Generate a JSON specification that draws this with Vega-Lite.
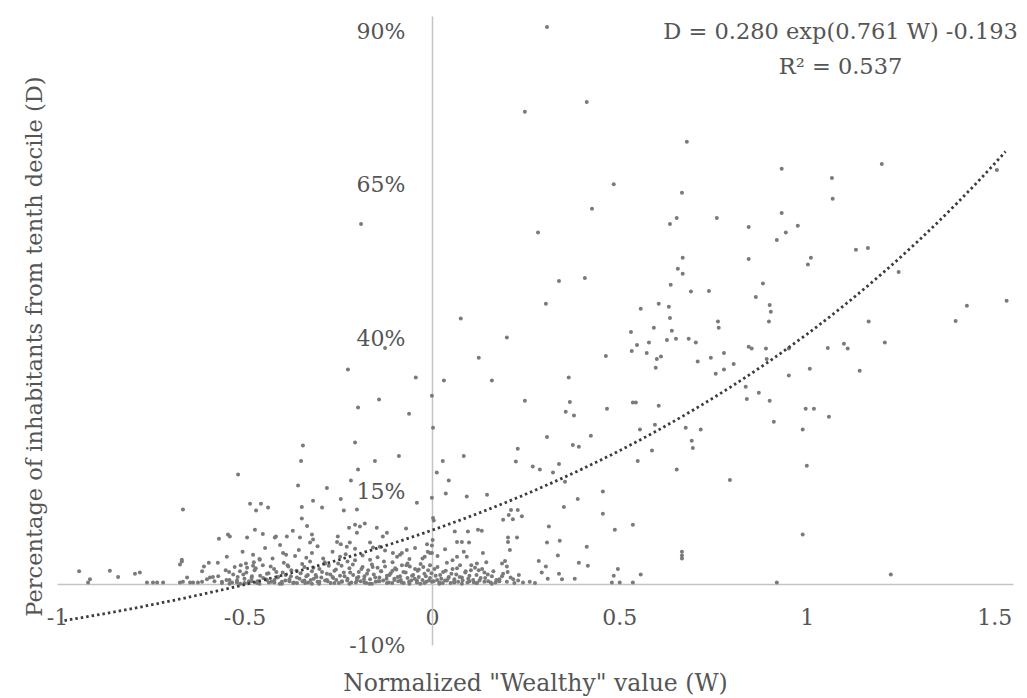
{
  "$schema": "https://vega.github.io/schema/vega-lite/v6.json",
  "width": 956,
  "height": 629,
  "autosize": "none",
  "padding": {"left": 57, "top": 16, "right": 14, "bottom": 53},
  "background": "white",
  "config": {
    "view": {"stroke": null},
    "font": "DejaVu Serif",
    "axis": {"labelFont": "DejaVu Serif", "titleFont": "DejaVu Serif"}
  },
  "datasets": {
    "pts": [
      {"W":0.307,"D":0.907},{"W":0.248,"D":0.769},{"W":0.413,"D":0.785},{"W":0.68,"D":0.72},{"W":0.933,"D":0.676},{"W":0.485,"D":0.651},{"W":0.667,"D":0.637},{"W":0.427,"D":0.611},{"W":0.653,"D":0.596},{"W":0.76,"D":0.596},{"W":0.933,"D":0.604},{"W":1.067,"D":0.661},{"W":1.2,"D":0.684},{"W":1.069,"D":0.627},{"W":1.507,"D":0.674},{"W":-0.189,"D":0.586},
      {"W":0.077,"D":0.432},{"W":0.2,"D":0.401},{"W":0.125,"D":0.368},{"W":-0.224,"D":0.349},{"W":-0.125,"D":0.384},{"W":-0.043,"D":0.336},{"W":0.032,"D":0.331},{"W":0.16,"D":0.331},{"W":0.248,"D":0.298},{"W":-0.197,"D":0.287},{"W":-0.141,"D":0.3},{"W":-0.061,"D":0.277},{"W":0,"D":0.306},{"W":0.003,"D":0.254},
      {"W":0.283,"D":0.572},{"W":0.635,"D":0.586},{"W":0.845,"D":0.581},{"W":0.92,"D":0.56},{"W":0.845,"D":0.529},{"W":0.669,"D":0.531},{"W":0.656,"D":0.513},{"W":0.669,"D":0.505},{"W":0.339,"D":0.493},{"W":0.408,"D":0.498},{"W":0.637,"D":0.487},{"W":0.691,"D":0.476},{"W":0.739,"D":0.477},{"W":0.883,"D":0.489},{"W":0.864,"D":0.467},{"W":0.304,"D":0.456},{"W":0.557,"D":0.448},{"W":0.605,"D":0.456},{"W":0.632,"D":0.451},{"W":0.635,"D":0.433},{"W":0.901,"D":0.454},{"W":0.904,"D":0.443},{"W":0.899,"D":0.427},{"W":0.763,"D":0.427},{"W":0.765,"D":0.417},{"W":0.592,"D":0.417},{"W":0.531,"D":0.41},{"W":0.64,"D":0.412},{"W":0.579,"D":0.393},{"W":0.547,"D":0.389},{"W":0.627,"D":0.397},{"W":0.651,"D":0.399},{"W":0.685,"D":0.399},{"W":0.704,"D":0.393},{"W":0.533,"D":0.379},{"W":0.573,"D":0.376},{"W":0.611,"D":0.37},{"W":0.6,"D":0.366},{"W":0.597,"D":0.352},{"W":0.464,"D":0.371},{"W":0.709,"D":0.362},{"W":0.744,"D":0.368},{"W":0.779,"D":0.376},{"W":0.805,"D":0.358},{"W":0.757,"D":0.342},{"W":0.779,"D":0.349},{"W":0.845,"D":0.386},{"W":0.853,"D":0.383},{"W":0.891,"D":0.383},{"W":0.893,"D":0.366},{"W":0.365,"D":0.336},{"W":0.368,"D":0.296},{"W":0.357,"D":0.28},{"W":0.379,"D":0.274},{"W":0.467,"D":0.285},{"W":0.536,"D":0.295},{"W":0.544,"D":0.295},{"W":0.605,"D":0.29},{"W":0.837,"D":0.321},{"W":0.84,"D":0.301},{"W":0.872,"D":0.311},{"W":0.901,"D":0.298},{"W":0.912,"D":0.264},{"W":0.595,"D":0.259},{"W":0.555,"D":0.251},{"W":0.677,"D":0.254},{"W":0.717,"D":0.251},
      {"W":0.976,"D":0.583},{"W":0.944,"D":0.572},{"W":1.131,"D":0.544},{"W":1.163,"D":0.547},{"W":1.011,"D":0.531},{"W":1.003,"D":0.52},{"W":1.245,"D":0.508},{"W":1.533,"D":0.461},{"W":1.427,"D":0.453},{"W":1.397,"D":0.428},{"W":1.165,"D":0.427},{"W":1.208,"D":0.393},{"W":1.099,"D":0.391},{"W":1.109,"D":0.383},{"W":1.056,"D":0.384},{"W":0.952,"D":0.383},{"W":1.008,"D":0.35},{"W":0.952,"D":0.339},{"W":1.141,"D":0.347},{"W":0.997,"D":0.285},{"W":1.019,"D":0.285},{"W":1.059,"D":0.272},{"W":0.989,"D":0.251},
      {"W":1.0,"D":0.192},{"W":0.989,"D":0.08},{"W":0.92,"D":0.002},{"W":1.224,"D":0.015},
      {"W":0.307,"D":0.239},{"W":0.376,"D":0.226},{"W":0.392,"D":0.223},{"W":0.424,"D":0.241},{"W":0.693,"D":0.233},{"W":0.696,"D":0.221},{"W":0.587,"D":0.217},{"W":0.549,"D":0.2},{"W":0.653,"D":0.186},{"W":0.795,"D":0.169},{"W":0.269,"D":0.191},{"W":0.288,"D":0.186},{"W":0.339,"D":0.195},{"W":0.323,"D":0.181},{"W":0.355,"D":0.166},{"W":0.456,"D":0.15},{"W":0.389,"D":0.138},{"W":0.352,"D":0.125},{"W":0.456,"D":0.114},{"W":0.536,"D":0.096},{"W":0.488,"D":0.088},{"W":0.312,"D":0.093},{"W":0.307,"D":0.067},{"W":0.341,"D":0.07},{"W":0.413,"D":0.06},{"W":0.336,"D":0.046},{"W":0.667,"D":0.052},{"W":0.667,"D":0.046},{"W":0.667,"D":0.041},{"W":0.285,"D":0.037},{"W":0.304,"D":0.028},{"W":0.392,"D":0.034},{"W":0.416,"D":0.029},{"W":0.293,"D":0.018},{"W":0.339,"D":0.016},{"W":0.347,"D":0.007},{"W":0.309,"D":0.008},{"W":0.381,"D":0.008},{"W":0.496,"D":0.024},{"W":0.485,"D":0.013},{"W":0.48,"D":0.002},{"W":0.501,"D":0.002},{"W":0.536,"D":0.002},{"W":0.557,"D":0.015},{"W":0.243,"D":0.002},{"W":0.261,"D":0.003},{"W":0.275,"D":0.001},
      {"W":-0.344,"D":0.225},{"W":-0.349,"D":0.2},{"W":-0.205,"D":0.23},{"W":-0.152,"D":0.2},{"W":-0.088,"D":0.208},{"W":-0.197,"D":0.186},{"W":-0.216,"D":0.168},{"W":-0.357,"D":0.16},{"W":-0.28,"D":0.156},{"W":0.029,"D":0.2},{"W":0.085,"D":0.208},{"W":0.229,"D":0.22},{"W":0.224,"D":0.199},{"W":0.013,"D":0.181},{"W":0.045,"D":0.168},{"W":0.037,"D":0.147},{"W":0.093,"D":0.142},{"W":0.147,"D":0.145},{"W":0,"D":0.14},{"W":-0.04,"D":0.132},{"W":-0.243,"D":0.138},{"W":-0.317,"D":0.135},{"W":-0.293,"D":0.124},{"W":-0.347,"D":0.125},{"W":-0.235,"D":0.119},{"W":-0.2,"D":0.121},{"W":-0.347,"D":0.106},{"W":-0.333,"D":0.094},
      {"W":-0.221,"D":0.091},{"W":-0.205,"D":0.096},{"W":-0.192,"D":0.093},{"W":-0.2,"D":0.083},{"W":-0.179,"D":0.098},{"W":-0.147,"D":0.091},{"W":-0.069,"D":0.09},{"W":0.003,"D":0.107},{"W":0.005,"D":0.103},{"W":0.061,"D":0.085},{"W":0.096,"D":0.085},{"W":0.123,"D":0.088},{"W":0.133,"D":0.086},
      {"W":0.19,"D":0.104},{"W":0.205,"D":0.112},{"W":0.211,"D":0.12},{"W":0.229,"D":0.12},{"W":0.216,"D":0.105},{"W":0.24,"D":0.11},
      {"W":0.203,"D":0.075},{"W":0.203,"D":0.068},{"W":0.208,"D":0.055},{"W":0.227,"D":0.075},{"W":0.067,"D":0.068},{"W":0.08,"D":0.068},{"W":0.099,"D":0.067},{"W":0.136,"D":0.05},{"W":0.067,"D":0.044},{"W":0.093,"D":0.044},
      {"W":0.187,"D":0.033},{"W":0.195,"D":0.037},{"W":0.2,"D":0.028},{"W":0.12,"D":0.033},
      {"W":-0.32,"D":0.05},{"W":-0.397,"D":0.05},{"W":-0.389,"D":0.047},{"W":-0.419,"D":0.075},{"W":-0.387,"D":0.077},{"W":-0.371,"D":0.086},{"W":-0.352,"D":0.075},{"W":-0.32,"D":0.08},{"W":-0.317,"D":0.072},{"W":-0.325,"D":0.067},{"W":-0.251,"D":0.077},{"W":-0.253,"D":0.068},{"W":-0.243,"D":0.064},{"W":-0.227,"D":0.06},{"W":-0.219,"D":0.067},{"W":-0.165,"D":0.067},{"W":-0.157,"D":0.059},{"W":-0.139,"D":0.06},{"W":-0.131,"D":0.077},{"W":-0.12,"D":0.083},{"W":-0.104,"D":0.05},{"W":-0.093,"D":0.044},{"W":-0.08,"D":0.05},{"W":-0.067,"D":0.055},{"W":-0.013,"D":0.064},{"W":-0.011,"D":0.052},{"W":-0.005,"D":0.05},{"W":-0.019,"D":0.044},{"W":-0.035,"D":0.023},{"W":-0.059,"D":0.028},
      {"W":-0.517,"D":0.178},{"W":-0.664,"D":0.121},{"W":-0.485,"D":0.13},{"W":-0.456,"D":0.13},{"W":-0.469,"D":0.119},{"W":-0.437,"D":0.124},{"W":-0.472,"D":0.088},{"W":-0.451,"D":0.081},{"W":-0.493,"D":0.075},{"W":-0.544,"D":0.08},{"W":-0.539,"D":0.077},{"W":-0.568,"D":0.073},{"W":-0.416,"D":0.077},{"W":-0.667,"D":0.036},{"W":-0.672,"D":0.031},{"W":-0.667,"D":0.039},{"W":-0.547,"D":0.044},{"W":-0.571,"D":0.034},{"W":-0.595,"D":0.034},{"W":-0.608,"D":0.028},{"W":-0.613,"D":0.02},{"W":-0.477,"D":0.047},{"W":-0.459,"D":0.039},{"W":-0.477,"D":0.029},{"W":-0.493,"D":0.026},{"W":-0.512,"D":0.02},
      {"W":-0.941,"D":0.02},{"W":-0.859,"D":0.021},{"W":-0.837,"D":0.011},{"W":-0.792,"D":0.016},{"W":-0.779,"D":0.018},{"W":-0.917,"D":0.002},{"W":-0.912,"D":0.007},{"W":-0.76,"D":0.002},{"W":-0.744,"D":0.002},{"W":-0.733,"D":0.002},{"W":-0.717,"D":0.002},{"W":-0.672,"D":0.002},{"W":-0.664,"D":0.003},{"W":-0.653,"D":0.01},{"W":-0.645,"D":0.002},{"W":-0.637,"D":0.002},{"W":-0.624,"D":0.002},{"W":-0.613,"D":0.003},{"W":-0.6,"D":0.007},{"W":-0.592,"D":0.01},{"W":-0.584,"D":0.011},
      {"W":-0.58,"D":0.004},{"W":-0.57,"D":0.012},{"W":-0.56,"D":0.001},{"W":-0.55,"D":0.022},{"W":-0.54,"D":0.006},{"W":-0.53,"D":0.015},{"W":-0.52,"D":0.002},{"W":-0.51,"D":0.03},{"W":-0.5,"D":0.008},{"W":-0.495,"D":0.018},{"W":-0.49,"D":0.001},{"W":-0.48,"D":0.012},{"W":-0.47,"D":0.025},{"W":-0.465,"D":0.004},{"W":-0.46,"D":0.04},{"W":-0.45,"D":0.009},{"W":-0.44,"D":0.016},{"W":-0.435,"D":0.002},{"W":-0.43,"D":0.028},{"W":-0.42,"D":0.006},{"W":-0.415,"D":0.019},{"W":-0.41,"D":0.011},{"W":-0.4,"D":0.003},{"W":-0.395,"D":0.034},{"W":-0.39,"D":0.014},{"W":-0.38,"D":0.007},{"W":-0.375,"D":0.022},{"W":-0.37,"D":0.001},{"W":-0.365,"D":0.045},{"W":-0.36,"D":0.01},{"W":-0.35,"D":0.017},{"W":-0.345,"D":0.004},{"W":-0.34,"D":0.027},{"W":-0.335,"D":0.012},{"W":-0.33,"D":0.002},{"W":-0.325,"D":0.036},{"W":-0.32,"D":0.02},{"W":-0.315,"D":0.008},{"W":-0.31,"D":0.014},{"W":-0.305,"D":0.003},{"W":-0.3,"D":0.024},{"W":-0.295,"D":0.01},{"W":-0.29,"D":0.041},{"W":-0.285,"D":0.005},{"W":-0.28,"D":0.016},{"W":-0.275,"D":0.029},{"W":-0.27,"D":0.001},{"W":-0.265,"D":0.011},{"W":-0.26,"D":0.021},{"W":-0.255,"D":0.006},{"W":-0.25,"D":0.033},{"W":-0.245,"D":0.013},{"W":-0.24,"D":0.003},{"W":-0.235,"D":0.018},{"W":-0.23,"D":0.048},{"W":-0.225,"D":0.008},{"W":-0.22,"D":0.025},{"W":-0.215,"D":0.002},{"W":-0.21,"D":0.014},{"W":-0.205,"D":0.038},{"W":-0.2,"D":0.009},{"W":-0.195,"D":0.019},{"W":-0.19,"D":0.004},{"W":-0.185,"D":0.027},{"W":-0.18,"D":0.012},{"W":-0.175,"D":0.001},{"W":-0.17,"D":0.022},{"W":-0.165,"D":0.007},{"W":-0.16,"D":0.031},{"W":-0.155,"D":0.015},{"W":-0.15,"D":0.003},{"W":-0.145,"D":0.043},{"W":-0.14,"D":0.01},{"W":-0.135,"D":0.02},{"W":-0.13,"D":0.005},{"W":-0.125,"D":0.028},{"W":-0.12,"D":0.013},{"W":-0.115,"D":0.002},{"W":-0.11,"D":0.017},{"W":-0.105,"D":0.035},{"W":-0.1,"D":0.008},{"W":-0.095,"D":0.023},{"W":-0.09,"D":0.004},{"W":-0.085,"D":0.012},{"W":-0.08,"D":0.03},{"W":-0.075,"D":0.001},{"W":-0.07,"D":0.018},{"W":-0.065,"D":0.009},{"W":-0.06,"D":0.04},{"W":-0.055,"D":0.005},{"W":-0.05,"D":0.014},{"W":-0.045,"D":0.024},{"W":-0.04,"D":0.002},{"W":-0.035,"D":0.011},{"W":-0.03,"D":0.032},{"W":-0.025,"D":0.006},{"W":-0.02,"D":0.016},{"W":-0.015,"D":0.003},{"W":-0.01,"D":0.022},{"W":-0.005,"D":0.009},{"W":0.0,"D":0.05},{"W":0.0,"D":0.062},{"W":0.002,"D":0.071},{"W":0.005,"D":0.004},{"W":0.01,"D":0.013},{"W":0.015,"D":0.027},{"W":0.02,"D":0.002},{"W":0.025,"D":0.008},{"W":0.03,"D":0.019},{"W":0.035,"D":0.005},{"W":0.04,"D":0.034},{"W":0.045,"D":0.011},{"W":0.05,"D":0.001},{"W":0.055,"D":0.024},{"W":0.06,"D":0.007},{"W":0.065,"D":0.015},{"W":0.07,"D":0.003},{"W":0.075,"D":0.03},{"W":0.08,"D":0.01},{"W":0.09,"D":0.02},{"W":0.095,"D":0.002},{"W":0.1,"D":0.013},{"W":0.11,"D":0.006},{"W":0.115,"D":0.026},{"W":0.12,"D":0.001},{"W":0.13,"D":0.009},{"W":0.14,"D":0.018},{"W":0.15,"D":0.004},{"W":0.16,"D":0.012},{"W":0.17,"D":0.002},{"W":0.18,"D":0.007},{"W":0.19,"D":0.016},{"W":0.2,"D":0.003},{"W":0.21,"D":0.01},{"W":0.22,"D":0.001},{"W":0.23,"D":0.005},
      {"W":-0.56,"D":0.003},{"W":-0.54,"D":0.0},{"W":-0.52,"D":0.005},{"W":-0.5,"D":0.001},{"W":-0.48,"D":0.004},{"W":-0.46,"D":0.0},{"W":-0.44,"D":0.006},{"W":-0.42,"D":0.002},{"W":-0.4,"D":0.0},{"W":-0.38,"D":0.004},{"W":-0.36,"D":0.001},{"W":-0.34,"D":0.005},{"W":-0.32,"D":0.0},{"W":-0.3,"D":0.003},{"W":-0.28,"D":0.006},{"W":-0.26,"D":0.001},{"W":-0.24,"D":0.004},{"W":-0.22,"D":0.0},{"W":-0.2,"D":0.005},{"W":-0.18,"D":0.002},{"W":-0.16,"D":0.0},{"W":-0.14,"D":0.004},{"W":-0.12,"D":0.001},{"W":-0.1,"D":0.006},{"W":-0.08,"D":0.002},{"W":-0.06,"D":0.0},{"W":-0.04,"D":0.005},{"W":-0.02,"D":0.001},{"W":0.0,"D":0.003},{"W":0.02,"D":0.0},{"W":0.04,"D":0.005},{"W":0.06,"D":0.002},{"W":0.08,"D":0.0},{"W":0.1,"D":0.004},{"W":0.12,"D":0.001},{"W":0.14,"D":0.003},{"W":0.16,"D":0.0},{"W":0.18,"D":0.004},
      {"W":-0.505,"D":0.052},{"W":-0.475,"D":0.035},{"W":-0.445,"D":0.058},{"W":-0.425,"D":0.041},{"W":-0.405,"D":0.063},{"W":-0.385,"D":0.03},{"W":-0.355,"D":0.055},{"W":-0.335,"D":0.042},{"W":-0.305,"D":0.061},{"W":-0.285,"D":0.033},{"W":-0.265,"D":0.052},{"W":-0.245,"D":0.044},{"W":-0.225,"D":0.036},{"W":-0.205,"D":0.057},{"W":-0.185,"D":0.046},{"W":-0.165,"D":0.039},{"W":-0.145,"D":0.026},{"W":-0.125,"D":0.054},{"W":-0.105,"D":0.021},{"W":-0.085,"D":0.047},{"W":-0.065,"D":0.033},{"W":-0.045,"D":0.058},{"W":-0.025,"D":0.041},{"W":-0.005,"D":0.03},{"W":0.015,"D":0.045},{"W":0.035,"D":0.056},{"W":0.055,"D":0.038},{"W":0.085,"D":0.052},{"W":0.105,"D":0.03},{"W":0.125,"D":0.022},{"W":0.145,"D":0.035},
      {"W":-0.548,"D":0.006},{"W":-0.541,"D":0.019},{"W":-0.533,"D":0.002},{"W":-0.526,"D":0.027},{"W":-0.518,"D":0.011},{"W":-0.511,"D":0.0},{"W":-0.503,"D":0.015},{"W":-0.496,"D":0.033},{"W":-0.488,"D":0.004},{"W":-0.481,"D":0.009},{"W":-0.473,"D":0.022},{"W":-0.466,"D":0.001},{"W":-0.458,"D":0.013},{"W":-0.451,"D":0.03},{"W":-0.443,"D":0.007},{"W":-0.436,"D":0.017},{"W":-0.428,"D":0.003},{"W":-0.421,"D":0.024},{"W":-0.413,"D":0.01},{"W":-0.406,"D":0.0},{"W":-0.398,"D":0.018},{"W":-0.391,"D":0.005},{"W":-0.383,"D":0.028},{"W":-0.376,"D":0.012},{"W":-0.368,"D":0.002},{"W":-0.361,"D":0.021},{"W":-0.353,"D":0.008},{"W":-0.346,"D":0.032},{"W":-0.338,"D":0.001},{"W":-0.331,"D":0.014},{"W":-0.323,"D":0.006},{"W":-0.316,"D":0.026},{"W":-0.308,"D":0.011},{"W":-0.301,"D":0.0},{"W":-0.293,"D":0.019},{"W":-0.286,"D":0.035},{"W":-0.278,"D":0.004},{"W":-0.271,"D":0.015},{"W":-0.263,"D":0.009},{"W":-0.256,"D":0.023},{"W":-0.248,"D":0.001},{"W":-0.241,"D":0.029},{"W":-0.233,"D":0.012},{"W":-0.226,"D":0.005},{"W":-0.218,"D":0.018},{"W":-0.211,"D":0.031},{"W":-0.203,"D":0.002},{"W":-0.196,"D":0.011},{"W":-0.188,"D":0.024},{"W":-0.181,"D":0.007},{"W":-0.173,"D":0.016},{"W":-0.166,"D":0.0},{"W":-0.158,"D":0.027},{"W":-0.151,"D":0.01},{"W":-0.143,"D":0.004},{"W":-0.136,"D":0.02},{"W":-0.128,"D":0.036},{"W":-0.121,"D":0.008},{"W":-0.113,"D":0.014},{"W":-0.106,"D":0.001},{"W":-0.098,"D":0.025},{"W":-0.091,"D":0.011},{"W":-0.083,"D":0.006},{"W":-0.076,"D":0.019},{"W":-0.068,"D":0.03},{"W":-0.061,"D":0.003},{"W":-0.053,"D":0.013},{"W":-0.046,"D":0.008},{"W":-0.038,"D":0.021},{"W":-0.031,"D":0.0},{"W":-0.023,"D":0.027},{"W":-0.016,"D":0.012},{"W":-0.008,"D":0.005},{"W":-0.001,"D":0.017},{"W":0.007,"D":0.024},{"W":0.014,"D":0.006},{"W":0.022,"D":0.014},{"W":0.029,"D":0.001},{"W":0.037,"D":0.021},{"W":0.044,"D":0.009},{"W":0.052,"D":0.016},{"W":0.059,"D":0.003},{"W":0.067,"D":0.025},{"W":0.074,"D":0.011},{"W":0.082,"D":0.005},{"W":0.089,"D":0.018},{"W":0.097,"D":0.008},{"W":0.104,"D":0.022},{"W":0.112,"D":0.002},{"W":0.119,"D":0.014},{"W":0.127,"D":0.005},{"W":0.134,"D":0.024},{"W":0.142,"D":0.009},{"W":0.149,"D":0.015},{"W":0.157,"D":0.002},{"W":0.164,"D":0.02},{"W":0.172,"D":0.006},{"W":0.187,"D":0.012},{"W":0.202,"D":0.019},{"W":0.217,"D":0.007},{"W":0.232,"D":0.014}
    ],
    "fit": [
      {"W":-0.98,"D":-0.0602},{"W":-0.9,"D":-0.0518},{"W":-0.8,"D":-0.0407},{"W":-0.7,"D":-0.0286},{"W":-0.6,"D":-0.0156},{"W":-0.5,"D":-0.0016},{"W":-0.4,"D":0.0135},{"W":-0.3,"D":0.0299},{"W":-0.2,"D":0.0475},{"W":-0.1,"D":0.0665},{"W":0,"D":0.087},{"W":0.1,"D":0.1091},{"W":0.2,"D":0.133},{"W":0.3,"D":0.1588},{"W":0.4,"D":0.1866},{"W":0.5,"D":0.2166},{"W":0.6,"D":0.249},{"W":0.7,"D":0.284},{"W":0.8,"D":0.3217},{"W":0.9,"D":0.3624},{"W":1.0,"D":0.4063},{"W":1.1,"D":0.4537},{"W":1.2,"D":0.5049},{"W":1.3,"D":0.56},{"W":1.4,"D":0.6196},{"W":1.5,"D":0.6838},{"W":1.53,"D":0.7041}
    ]
  },
  "layer": [
    {
      "data": {"name": "pts"},
      "mark": {"type": "circle", "size": 16, "color": "#7a7a7a", "opacity": 1},
      "encoding": {
        "x": {
          "field": "W", "type": "quantitative",
          "title": "Normalized \"Wealthy\" value (W)",
          "scale": {"domain": [-1, 1.55], "nice": false, "zero": false},
          "axis": {
            "values": [-1, -0.5, 0, 0.5, 1, 1.5],
            "labelExpr": "replace(format(datum.value, '~g'), '−', '-')",
            "offset": -61, "ticks": false, "grid": false,
            "domainColor": "#c4c4c4", "domainWidth": 1.5,
            "labelPadding": 23, "labelFontSize": 22, "labelColor": "#555555", "labelFont": "DejaVu Serif",
            "labelFlush": false, "labelOverlap": false, "labelBound": false,
            "titleFontSize": 23.5, "titleFontWeight": "normal", "titleColor": "#555555", "titleFont": "DejaVu Serif",
            "titlePadding": 43
          }
        },
        "y": {
          "field": "D", "type": "quantitative",
          "scale": {"domain": [-0.1, 0.925], "nice": false, "zero": false},
          "axis": {
            "values": [-0.1, 0.15, 0.4, 0.65, 0.9],
            "format": ".0%",
            "labelExpr": "replace(datum.label, '−', '-')",
            "offset": -375, "ticks": false, "grid": false,
            "domainColor": "#c4c4c4", "domainWidth": 1.5,
            "labelPadding": 27, "labelFontSize": 22, "labelColor": "#555555", "labelFont": "DejaVu Serif",
            "labelFlush": false, "labelOverlap": false, "labelBound": false,
            "title": "Percentage of inhabitants from tenth decile (D)",
            "titleFontSize": 22.5, "titleFontWeight": "normal", "titleColor": "#555555", "titleFont": "DejaVu Serif",
            "titleX": -386, "titleY": 330
          }
        }
      }
    },
    {
      "data": {"name": "fit"},
      "mark": {"type": "line", "color": "#3c3c3c", "strokeWidth": 2.8, "strokeDash": [2.5, 3], "interpolate": "monotone"},
      "encoding": {
        "x": {"field": "W", "type": "quantitative", "scale": {"domain": [-1, 1.55], "nice": false, "zero": false}},
        "y": {"field": "D", "type": "quantitative", "scale": {"domain": [-0.1, 0.925], "nice": false, "zero": false}}
      }
    },
    {
      "data": {"values": [{}]},
      "mark": {"type": "text", "text": "D = 0.280 exp(0.761 W) -0.193", "font": "DejaVu Serif", "fontSize": 22.5, "color": "#555555", "align": "center", "baseline": "middle"},
      "encoding": {
        "x": {"datum": 1.09, "type": "quantitative"},
        "y": {"datum": 0.899, "type": "quantitative"}
      }
    },
    {
      "data": {"values": [{}]},
      "mark": {"type": "text", "text": "R² = 0.537", "font": "DejaVu Serif", "fontSize": 22.5, "color": "#555555", "align": "center", "baseline": "middle"},
      "encoding": {
        "x": {"datum": 1.09, "type": "quantitative"},
        "y": {"datum": 0.842, "type": "quantitative"}
      }
    }
  ]
}
